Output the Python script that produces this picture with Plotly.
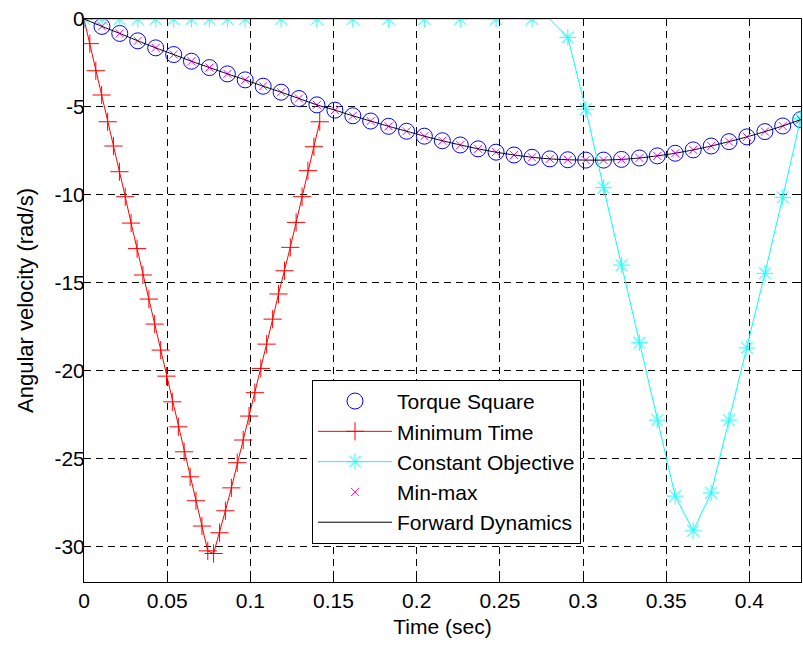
import plotly.graph_objects as go

# Common time grid (s) used by the torque-square, min-max and forward-dynamics results
t_grid = [0.0000, 0.0108, 0.0215, 0.0323, 0.0431, 0.0539, 0.0646, 0.0754, 0.0862, 0.0969,
          0.1077, 0.1185, 0.1292, 0.1400, 0.1508, 0.1616, 0.1723, 0.1831, 0.1939, 0.2046,
          0.2154, 0.2262, 0.2369, 0.2477, 0.2585, 0.2693, 0.2800, 0.2908, 0.3016, 0.3123,
          0.3231, 0.3339, 0.3446, 0.3554, 0.3662, 0.3770, 0.3877, 0.3985, 0.4093, 0.4200,
          0.4308]

# Angular velocity (rad/s) on t_grid
w_forward = [0.00, -0.42, -0.82, -1.24, -1.64, -2.02, -2.40, -2.76, -3.12, -3.46,
             -3.82, -4.16, -4.52, -4.88, -5.18, -5.50, -5.80, -6.10, -6.38, -6.66,
             -6.92, -7.16, -7.38, -7.57, -7.73, -7.86, -7.95, -8.00, -8.02, -8.02,
             -7.98, -7.90, -7.78, -7.63, -7.44, -7.22, -6.97, -6.70, -6.40, -6.08,
             -5.72]

# Torque-square and min-max solutions (sampled from the first grid step onward)
t_torque = t_grid[1:]
w_torque = [-0.42, -0.82, -1.24, -1.64, -2.02, -2.40, -2.76, -3.12, -3.46,
            -3.82, -4.16, -4.52, -4.88, -5.18, -5.50, -5.80, -6.10, -6.38, -6.66,
            -6.92, -7.16, -7.38, -7.57, -7.73, -7.86, -7.95, -8.00, -8.02, -8.02,
            -7.98, -7.90, -7.78, -7.63, -7.44, -7.22, -6.97, -6.70, -6.40, -6.08,
            -5.72]
t_minmax = t_grid[1:]
w_minmax = [-0.42, -0.82, -1.24, -1.64, -2.02, -2.40, -2.76, -3.12, -3.46,
            -3.82, -4.16, -4.52, -4.88, -5.18, -5.50, -5.80, -6.10, -6.38, -6.66,
            -6.92, -7.16, -7.38, -7.57, -7.73, -7.86, -7.95, -8.00, -8.02, -8.02,
            -7.98, -7.90, -7.78, -7.63, -7.44, -7.22, -6.97, -6.70, -6.40, -6.08,
            -5.72]

# Minimum-time solution
t_mintime = [0.0000, 0.0035, 0.0071, 0.0106, 0.0142, 0.0177, 0.0213, 0.0248, 0.0283, 0.0319,
             0.0354, 0.0390, 0.0425, 0.0461, 0.0496, 0.0531, 0.0567, 0.0602, 0.0638, 0.0673,
             0.0709, 0.0744, 0.0779, 0.0815, 0.0850, 0.0886, 0.0921, 0.0957, 0.0992, 0.1027,
             0.1063, 0.1098, 0.1134, 0.1169, 0.1205, 0.1240, 0.1275, 0.1311, 0.1346, 0.1382,
             0.1417]
w_mintime = [0.00, -1.40, -2.94, -4.32, -5.84, -7.22, -8.68, -10.10, -11.60, -13.05,
             -14.55, -15.92, -17.34, -18.82, -20.30, -21.76, -23.18, -24.60, -26.02, -27.38,
             -28.82, -30.23, -30.38, -29.20, -27.95, -26.65, -25.22, -23.93, -22.57, -21.24,
             -19.86, -18.48, -17.06, -15.63, -14.31, -12.98, -11.56, -10.10, -8.62, -7.26,
             -5.84]

# Constant-objective solution
t_const = [0.0000, 0.0108, 0.0215, 0.0323, 0.0431, 0.0539, 0.0646, 0.0754, 0.0862, 0.0969,
           0.1185, 0.1400, 0.1616, 0.1831, 0.2046, 0.2262, 0.2477, 0.2693, 0.2800,
           0.2908, 0.3016, 0.3123, 0.3231, 0.3339, 0.3446, 0.3554, 0.3662, 0.3770, 0.3877,
           0.3985, 0.4093, 0.4200, 0.4308]
w_const = [0.0, 0.0, 0.0, 0.0, 0.0, 0.0, 0.0, 0.0, 0.0, 0.0,
           0.0, 0.0, 0.0, 0.0, 0.0, 0.0, 0.0, 0.0, 0.0,
           -1.04, -5.13, -9.58, -13.99, -18.40, -22.80, -27.12, -29.09, -26.93, -22.80,
           -18.69, -14.46, -10.14, -5.66]
# the switching instant (fifth-from-last zero) carries no star marker
const_marker_size = [14] * len(t_const)
const_marker_size[18] = 0

x_ticks = [0, 0.05, 0.1, 0.15, 0.2, 0.25, 0.3, 0.35, 0.4]
x_tick_text = ["0", "0.05", "0.1", "0.15", "0.2", "0.25", "0.3", "0.35", "0.4"]
y_ticks = [0, -5, -10, -15, -20, -25, -30]
y_tick_text = ["0", "-5", "-10", "-15", "-20", "-25", "-30"]

FONT = "Arial, Liberation Sans, sans-serif"
FS = 21

fig = go.Figure()

fig.add_trace(go.Scatter(
    x=t_torque, y=w_torque, mode="markers", name="Torque Square",
    marker=dict(symbol="circle-open", size=16, color="#0000FF", line=dict(width=1, color="#0000FF")),
))
fig.add_trace(go.Scatter(
    x=t_mintime, y=w_mintime, mode="lines+markers", name="Minimum Time",
    line=dict(color="#FF0000", width=1),
    marker=dict(symbol="cross-thin", size=13, color="#FF0000", line=dict(width=1, color="#FF0000")),
))
fig.add_trace(go.Scatter(
    x=t_const, y=w_const, mode="lines+markers", name="Constant Objective",
    line=dict(color="#00FFFF", width=1),
    marker=dict(symbol="asterisk-open", size=const_marker_size, color="#00FFFF",
                line=dict(width=1.2, color="#00FFFF")),
))
fig.add_trace(go.Scatter(
    x=t_minmax, y=w_minmax, mode="markers", name="Min-max",
    marker=dict(symbol="x-thin", size=8, color="#FF00FF", line=dict(width=1, color="#FF00FF")),
))
fig.add_trace(go.Scatter(
    x=t_grid, y=w_forward, mode="lines", name="Forward Dynamics",
    line=dict(color="#000000", width=1, shape="spline", smoothing=0.6),
))

axis_common = dict(
    showline=True, linecolor="#000000", linewidth=1, mirror="ticks",
    ticks="inside", ticklen=7, tickcolor="#000000", tickwidth=1,
    showgrid=True, gridcolor="#000000", gridwidth=1, griddash="7px,5px",
    zeroline=False, tickfont=dict(family=FONT, size=FS, color="#000000"),
)

fig.update_xaxes(
    range=[0, 0.431], tickvals=x_ticks, ticktext=x_tick_text, ticklabelstandoff=0,
    title=dict(text="Time (sec)", font=dict(family=FONT, size=FS, color="#000000"), standoff=8),
    **axis_common,
)
fig.update_yaxes(
    range=[-32, 0], tickvals=y_ticks, ticktext=y_tick_text, ticklabelstandoff=-6,
    title=dict(text="Angular velocity (rad/s)", font=dict(family=FONT, size=FS + 1, color="#000000"), standoff=14),
    **axis_common,
)

fig.update_layout(
    width=803, height=645,
    margin=dict(l=84, r=2, t=19, b=63),
    paper_bgcolor="#FFFFFF", plot_bgcolor="#FFFFFF",
    font=dict(family=FONT, size=FS, color="#000000"),
    legend=dict(
        x=0.318, y=0.359, xanchor="left", yanchor="top",
        bgcolor="#FFFFFF", bordercolor="#000000", borderwidth=1,
        font=dict(family=FONT, size=FS, color="#000000"),
        itemwidth=74, tracegroupgap=0,
    ),
    showlegend=True,
)

fig.write_html("out.html")
